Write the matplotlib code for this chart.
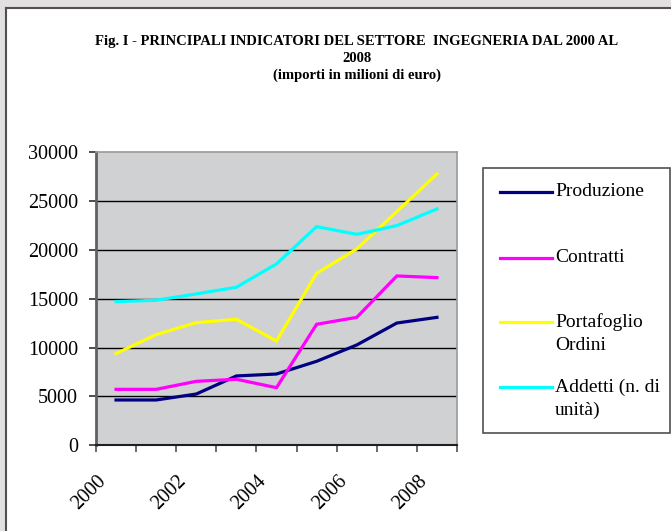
import matplotlib
matplotlib.use("Agg")
import matplotlib.pyplot as plt
from matplotlib.patches import Rectangle
from matplotlib.lines import Line2D
from matplotlib.transforms import ScaledTranslation
import numpy as np

years = [2000, 2001, 2002, 2003, 2004, 2005, 2006, 2007, 2008]
produzione = [4640, 4640, 5250, 7100, 7300, 8600, 10270, 12520, 13100]
contratti = [5730, 5730, 6550, 6760, 5900, 12390, 13100, 17340, 17170]
portafoglio = [9390, 11330, 12560, 12900, 10680, 17610, 20100, 23930, 27780]
addetti = [14710, 14850, 15500, 16180, 18570, 22390, 21600, 22490, 24200]
series_names = ["Produzione", "Contratti", "Portafoglio\nOrdini", "Addetti (n. di\nunità)"]
series_colors = ["#000080", "#FF00FF", "#FFFF00", "#00FFFF"]
label_years = ["2000", "2002", "2004", "2006", "2008"]
yticks = [0, 5000, 10000, 15000, 20000, 25000, 30000]

plt.rcParams["font.family"] = ["Liberation Serif", "DejaVu Serif"]

W, H = 671, 531
fig = plt.figure(figsize=(W / 100, H / 100), dpi=100, facecolor="#e2e0e0")

def fx(px):
    return px / W

def fy(py):
    return 1 - py / H

# white chart panel (left and top borders only; extends past the image)
fig.add_artist(Rectangle((fx(6), 0), 1.0, fy(8), transform=fig.transFigure,
                         facecolor="white", edgecolor="none", zorder=0))
fig.add_artist(Line2D([fx(6), fx(6)], [0, fy(8)], transform=fig.transFigure,
                      color="#505050", lw=1.5, zorder=1))
fig.add_artist(Line2D([fx(6), 1], [fy(8), fy(8)], transform=fig.transFigure,
                      color="#505050", lw=1.5, zorder=1))

left, right, top, bottom = 96, 457, 152.3, 445.3
ax = fig.add_axes([fx(left), fy(bottom), (right - left) / W, (bottom - top) / H])
ax.set_facecolor("#D0D1D3")

x = np.arange(len(years)) + 0.5
data = [produzione, contratti, portafoglio, addetti]
for vals, col in zip(data, series_colors):
    ax.plot(x, vals, color=col, lw=2.3, solid_joinstyle="miter", zorder=3)

ax.set_xlim(0, len(years))
ax.set_ylim(0, 30000)
ax.set_yticks(yticks)
ax.set_yticklabels([str(v) for v in yticks], fontsize=14.5)
ax.tick_params(axis="y", direction="out", length=5, width=1.2, color="#303030", pad=8)
for v in yticks[1:-1]:
    ax.axhline(v, color="black", lw=1.0, zorder=1)

# category boundaries as minor ticks, labels at centres
ax.set_xticks(np.arange(len(years) + 1), minor=True)
ax.tick_params(axis="x", which="minor", direction="out", length=5, width=1.2, color="#505050")
label_pos = [x[years.index(int(y))] for y in label_years]
ax.set_xticks(label_pos)
ax.set_xticklabels(label_years, fontsize=14.5, rotation=45, ha="center", va="center",
                   rotation_mode="anchor")
ax.tick_params(axis="x", which="major", length=0, pad=0)
off = ScaledTranslation(-27 / 100, -47 / 100, fig.dpi_scale_trans)
for lab in ax.get_xticklabels():
    lab.set_transform(lab.get_transform() + off)

for s in ["top", "right"]:
    ax.spines[s].set_color("#9a9a9a")
    ax.spines[s].set_linewidth(1.2)
ax.spines["left"].set_color("#606060")
ax.spines["left"].set_linewidth(2)
ax.spines["bottom"].set_color("#202020")
ax.spines["bottom"].set_linewidth(1.5)

# title
tkw = dict(ha="center", va="center", fontsize=10.5, fontweight="bold")
fig.text(fx(357), fy(41.5), "Fig. I - PRINCIPALI INDICATORI DEL SETTORE  INGEGNERIA DAL 2000 AL", **tkw)
fig.text(fx(357), fy(58.5), "2008", **tkw)
fig.text(fx(357), fy(75), "(importi in milioni di euro)", **tkw)

# legend box
fig.add_artist(Rectangle((fx(483), fy(433)), (670 - 483) / W, (433 - 168) / H,
                         transform=fig.transFigure, facecolor="white", edgecolor="#505050",
                         lw=1.2, zorder=2))
line_y = [192, 258, 322, 387]
for name, col, ly in zip(series_names, series_colors, line_y):
    fig.add_artist(Line2D([fx(500), fx(552)], [fy(ly), fy(ly)], transform=fig.transFigure,
                          color=col, lw=2.3, zorder=3))
    first, *rest = name.split("\n")
    fig.text(fx(555), fy(ly), first, ha="left", va="center", fontsize=14, zorder=4)
    for i, r in enumerate(rest):
        fig.text(fx(555), fy(ly + 23 * (i + 1)), r, ha="left", va="center", fontsize=14, zorder=4)

fig.savefig("out.png", dpi=100, facecolor=fig.get_facecolor())
